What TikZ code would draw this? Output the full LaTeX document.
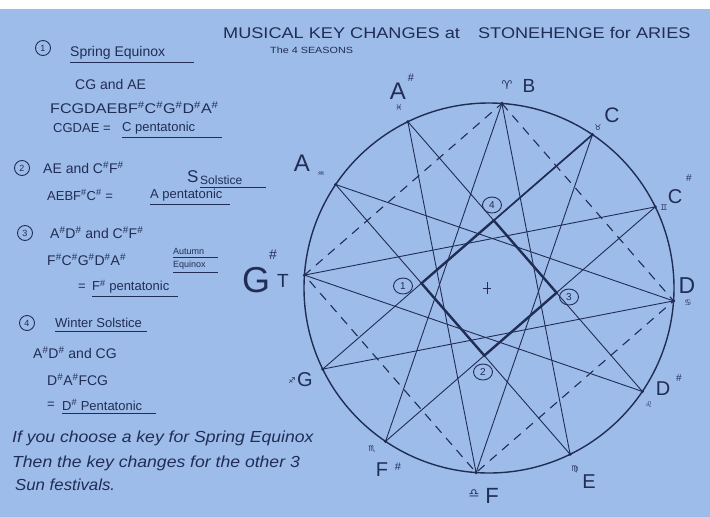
\documentclass[tikz,border=0pt]{standalone}
\usepackage{fontspec}
\setmainfont{Liberation Sans}
\newfontfamily\zodfont{DejaVu Sans}
\usetikzlibrary{shapes.geometric,calc}
\definecolor{paper}{RGB}{158,188,233}
\definecolor{ink}{RGB}{32,45,85}
\newcommand\myfs[1]{\fontsize{#1}{#1}\selectfont}
\newcommand\sh{\textsuperscript{\#}}
\begin{document}
\begin{tikzpicture}[x=1pt,y=-1pt,
  every node/.style={text=ink,inner sep=0pt},
  chord/.style={draw=ink,line width=0.9pt},
  dashsq/.style={draw=ink,line width=1.1pt,dash pattern=on 9pt off 7pt},
  sqline/.style={draw=ink,line width=2.4pt,line join=miter},
  ring/.style={draw=ink,line width=1.4pt},
  num/.style={ellipse,draw=ink,line width=0.9pt,minimum width=19pt,minimum height=16pt,font=\myfs{10}},
  lnum/.style={ellipse,draw=ink,line width=0.9pt,minimum width=15pt,minimum height=15pt,font=\myfs{9}},
  note/.style={font=\myfs{20}},
  zod/.style={font=\zodfont\myfs{8}},
  txt/.style={anchor=west,font=\myfs{14}},
  hand/.style={anchor=west,font=\itshape\myfs{16}},
  uline/.style={draw=ink,line width=0.9pt}]
\fill[paper] (0,0) rectangle (710,517);
\fill[white] (0,0) rectangle (710,9);
\useasboundingbox (0,0) rectangle (710,517);

% note points on the circle
\foreach \nm [count=\k from 0] in {B,C,Cs,D,Ds,E,F,Fs,G,Gs,A,As} {
  \coordinate (n\nm) at ({489+185*cos(86-30*\k)},{288-185*sin(86-30*\k)});
}
\draw[ring] (489,288) circle[radius=185pt];

% dashed square
\draw[dashsq] (nB) -- (nD) -- (nF) -- (nGs) -- cycle;

% star chords
\foreach \a/\b in {B/E,C/F,Cs/Fs,D/G,Ds/Gs,E/A,F/As,Fs/B,G/C,Gs/Cs,A/D,As/Ds}
  \draw[chord] (n\a) -- (n\b);

% central square
\coordinate (qT) at (intersection of nC--nG and nAs--nDs);
\coordinate (qR) at (intersection of nAs--nDs and nCs--nFs);
\coordinate (qB) at (intersection of nCs--nFs and nA--nE);
\coordinate (qL) at (intersection of nA--nE and nC--nG);
\draw[sqline] (qT) -- (qR) -- (qB) -- (qL) -- cycle;
\draw[draw=ink,line width=1.7pt] (nC) -- (qT);

\foreach \nm in {B,C,Cs,D,Ds,E,F,Fs,G,Gs,A,As}
  \fill[ink] (n\nm) circle[radius=1.8pt];

% centre mark
\coordinate (ctr) at (487,288);
\draw[ink,line width=0.8pt] ($(ctr)+(0,-6)$) -- ($(ctr)+(0,6)$);
\draw[ink,line width=0.8pt] ($(ctr)+(-4,0)$) -- ($(ctr)+(4,0)$);

% circled numbers
\node[num] (c4) at (492,205) {4};
\node[num] (c1) at (403,286) {1};
\node[num] (c3) at (569,297) {3};
\node[num] (c2) at (483,372) {2};

% note labels
\node[font=\myfs{24}] (lAs) at (398,91) {A};
\node[font=\myfs{11}] (lAss) at (411,78) {\#};
\node[zod] (zAs) at (399,108) {♓};
\node[font=\zodfont\myfs{12}] (zB) at (507,85) {♈};
\node[note,font=\myfs{19}] (lB) at (529,86) {B};
\node[note,font=\myfs{21}] (lC) at (612,115) {C};
\node[zod] (zC) at (598,128) {♉};
\node[note] (lCs) at (675,197) {C};
\node[font=\myfs{10}] (lCss) at (689,178) {\#};
\node[zod] (zCs) at (664,208) {♊};
\node[font=\myfs{23}] (lD) at (687,286) {D};
\node[zod] (zD) at (688,303) {♋};
\node[note] (lDs) at (663,389) {D};
\node[font=\myfs{10}] (lDss) at (679,378) {\#};
\node[zod] (zDs) at (649,405) {♌};
\node[note] (lE) at (589,482) {E};
\node[zod] (zE) at (575,469) {♍};
\node[font=\myfs{22}] (lF) at (492,496) {F};
\node[font=\zodfont\myfs{12}] (zF) at (474,494) {♎};
\node[note] (lFs) at (382,470) {F};
\node[font=\myfs{11}] (lFss) at (398,467) {\#};
\node[zod] (zFs) at (372,449) {♏};
\node[note] (lG) at (305,380) {G};
\node[zod] (zG) at (292,381) {♐};
\node[font=\myfs{36}] (lGs) at (256,280) {G};
\node[font=\myfs{14}] (lGss) at (273,255) {\#};
\node[font=\myfs{19}] (lT) at (283,281) {T};
\node[font=\myfs{24}] (lA) at (302,163) {A};
\node[zod] (zA) at (321,174) {♒};

% title
\node[anchor=west,font=\myfs{15.5}] (title) at (223,33) {\scalebox{1.17}[1]{MUSICAL KEY CHANGES at\quad STONEHENGE for ARIES}};
\node[anchor=west,font=\myfs{9}] (sub) at (270,50) {\scalebox{1.2}[1]{The 4 SEASONS}};

% left-hand notes
\node[lnum] (k1) at (43,48) {1};
\node[txt] (t1) at (70,53) {Spring Equinox};
\draw[uline] (t1.south west)++(0,3) -- ++(124,0);
\node[txt] (t2) at (75,84) {CG and AE};
\node[txt] (t3) at (50,108) {\scalebox{1.15}[1]{FCGDAEBF\sh C\sh G\sh D\sh A\sh}};
\node[txt,font=\myfs{13}] (t4) at (53,128) {CGDAE = };
\node[txt,font=\myfs{13}] (t4b) at (122,128) {C pentatonic};
\draw[uline] (t4b.south west)++(0,3) -- ++(100,0);

\node[lnum] (k2) at (22,168) {2};
\node[txt] (t5) at (43,168) {AE and C\sh F\sh};
\node[anchor=west,font=\myfs{17}] (t5s) at (187,177) {S};
\node[anchor=west,font=\myfs{12}] (t5b) at (200,180) {Solstice};
\draw[uline] (t5b.south west)++(0,3) -- ++(66,0);
\node[txt,font=\myfs{13}] (t6) at (47,195) {AEBF\sh C\sh\ = };
\node[txt,font=\myfs{13}] (t6b) at (150,195) {A pentatonic};
\draw[uline] (t6b.south west)++(0,3) -- ++(80,0);

\node[lnum] (k3) at (25,233) {3};
\node[txt] (t7) at (50,233) {A\sh D\sh\ and C\sh F\sh};
\node[txt] (t8) at (47,260) {F\sh C\sh G\sh D\sh A\sh};
\node[anchor=west,font=\myfs{9}] (t8a) at (173,251) {Autumn};
\draw[uline] (t8a.south west)++(0,3) -- ++(45,0);
\node[anchor=west,font=\myfs{9}] (t8b) at (173,265) {Equinox};
\draw[uline] (t8b.south west)++(0,3) -- ++(45,0);
\node[txt,font=\myfs{13}] (t9) at (78,287) {= };
\node[txt,font=\myfs{13}] (t9b) at (92,287) {F\sh\ pentatonic};
\draw[uline] (t9b.south west)++(0,3) -- ++(86,0);

\node[lnum] (k4) at (27,323) {4};
\node[txt,font=\myfs{13}] (t10) at (55,323) {Winter Solstice};
\draw[uline] (t10.south west)++(0,3) -- ++(92,0);
\node[txt] (t11) at (33,353) {A\sh D\sh\ and CG};
\node[txt] (t12) at (47,380) {D\sh A\sh FCG};
\node[txt,font=\myfs{13}] (t13) at (47,405) {= };
\node[txt,font=\myfs{13}] (t13b) at (62,405) {D\sh\ Pentatonic};
\draw[uline] (t13b.south west)++(0,3) -- ++(94,0);

\node[hand] (t14) at (12,438) {\scalebox{1.1}[1]{If you choose a key for Spring Equinox}};
\node[hand] (t15) at (12,463) {\scalebox{1.1}[1]{Then the key changes for the other 3}};
\node[hand] (t16) at (15,485) {\scalebox{1.05}[1]{Sun festivals.}};
\end{tikzpicture}
\end{document}
